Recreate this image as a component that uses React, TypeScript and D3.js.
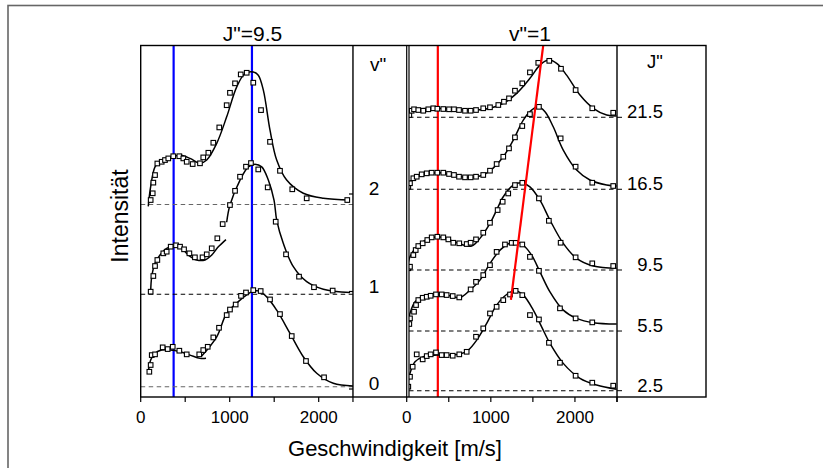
import React from "react";
import * as d3 from "d3";

// ---------- data ----------
const leftTicks = [0, 500, 1000, 1500, 2000];
const leftTickLabels = [0, 1000, 2000];
const rightTicks = [0, 500, 1000, 1500, 2000, 2500];
const rightTickLabels = [0, 1000, 2000];

const vLabels = ["0", "1", "2"];
const vOffsets = [0, 1.015, 2];
const jLabels = ["2.5", "5.5", "9.5", "16.5", "21.5"];
const jOffsets = [0, 0.655, 1.325, 2.211, 3.001];

const blueLines = [370, 1250];
const redVertical = 370;
const redSlant: [number, number][] = [[1239, 0.996], [1623, 3.79]];

type P = [number, number];

const v2Markers: P[] = [[112,0.049],[135,0.123],[142,0.24],[161,0.323],[187,0.45],[236,0.469],[273,0.488],[310,0.506],[366,0.53],[434,0.53],[479,0.506],[517,0.469],[584,0.444],[666,0.452],[703,0.517],[760,0.568],[816,0.678],[883,0.846],[966,1.09],[1003,1.226],[1060,1.33],[1124,1.428],[1191,1.446],[1265,1.337],[1352,1.036],[1453,0.688],[1565,0.37],[1703,0.167],[1865,0.068],[2321,0.049]];
const v2Fit: P[] = [[85,-0.02],[112,0.195],[161,0.414],[217,0.469],[366,0.524],[442,0.542],[554,0.506],[666,0.452],[742,0.488],[854,0.671],[966,0.962],[1079,1.291],[1172,1.438],[1265,1.455],[1321,1.419],[1378,1.255],[1453,0.816],[1528,0.488],[1640,0.268],[1827,0.123],[2052,0.068],[2352,0.049]];

const v1Markers: P[] = [[112,0.028],[142,0.2],[161,0.31],[187,0.376],[254,0.449],[292,0.467],[337,0.522],[397,0.537],[442,0.522],[487,0.493],[547,0.449],[609,0.405],[695,0.405],[742,0.438],[798,0.504],[861,0.614],[921,0.77],[1003,0.979],[1060,1.135],[1116,1.29],[1183,1.4],[1239,1.44],[1321,1.37],[1427,1.173],[1517,0.796],[1633,0.438],[1779,0.193],[1947,0.077],[2157,0.04]];
const v1FitA: P[] = [[112,0.028],[124,0.193],[161,0.34],[217,0.43],[292,0.504],[385,0.529],[461,0.504],[535,0.43],[629,0.376],[722,0.376],[798,0.43],[872,0.52],[958,0.6]];
const v1FitB: P[] = [[966,0.79],[1003,0.979],[1116,1.253],[1209,1.398],[1284,1.428],[1360,1.398],[1434,1.253],[1498,1.033],[1528,0.814],[1602,0.559],[1715,0.302],[1865,0.138],[2052,0.055],[2352,0.018]];

const v0Markers: P[] = [[97,0.164],[112,0.238],[124,0.347],[161,0.355],[247,0.432],[303,0.413],[360,0.438],[434,0.395],[517,0.355],[658,0.355],[703,0.402],[753,0.438],[816,0.541],[880,0.647],[966,0.786],[1003,0.847],[1067,0.902],[1127,0.997],[1183,1.034],[1265,1.06],[1348,1.05],[1453,0.958],[1565,0.797],[1697,0.556],[1857,0.282],[2060,0.103]];
const v0FitA: P[] = [[85,0.147],[112,0.293],[161,0.366],[236,0.402],[329,0.402],[442,0.384],[554,0.347],[666,0.311],[734,0.311]];
const v0FitB: P[] = [[685,0.336],[854,0.548],[966,0.804],[1116,0.95],[1247,1.041],[1321,1.052],[1416,0.986],[1528,0.84],[1678,0.585],[1827,0.329],[1978,0.147],[2164,0.037],[2389,0.008]];

const j21Markers: P[] = [[31,0.025],[59,0.072],[87,0.088],[138,0.08],[197,0.072],[257,0.088],[316,0.099],[364,0.094],[435,0.091],[503,0.088],[562,0.088],[622,0.08],[693,0.072],[760,0.072],[824,0.08],[910,0.099],[990,0.11],[1089,0.135],[1156,0.171],[1216,0.208],[1287,0.292],[1374,0.373],[1465,0.493],[1564,0.598],[1695,0.62],[1834,0.533],[2008,0.299],[2206,0.099],[2455,0.05]];
const j21Fit: P[] = [[7,0.025],[39,0.072],[119,0.088],[357,0.099],[594,0.088],[832,0.08],[990,0.099],[1148,0.153],[1307,0.263],[1465,0.428],[1584,0.573],[1683,0.628],[1783,0.592],[1901,0.463],[2060,0.244],[2218,0.099],[2377,0.025],[2496,0.014]];

const j16Markers: P[] = [[19,0.028],[39,0.066],[79,0.121],[119,0.138],[178,0.164],[238,0.175],[297,0.182],[364,0.182],[435,0.182],[503,0.168],[562,0.157],[622,0.138],[693,0.131],[760,0.131],[824,0.138],[910,0.157],[990,0.204],[1069,0.277],[1148,0.357],[1216,0.449],[1287,0.57],[1374,0.694],[1465,0.825],[1572,0.905],[1830,0.559],[2008,0.248],[2206,0.072],[2455,0.036]];
const j16Fit: P[] = [[7,0.011],[39,0.083],[119,0.138],[238,0.167],[396,0.182],[554,0.156],[713,0.131],[871,0.145],[990,0.203],[1148,0.357],[1267,0.54],[1386,0.76],[1485,0.869],[1564,0.905],[1644,0.851],[1742,0.686],[1861,0.43],[2020,0.211],[2178,0.102],[2377,0.047],[2496,0.036]];

const j9Markers: P[] = [[19,0.019],[39,0.036],[79,0.164],[107,0.219],[138,0.263],[190,0.293],[245,0.329],[297,0.358],[364,0.365],[435,0.358],[495,0.336],[554,0.299],[625,0.293],[713,0.285],[760,0.299],[824,0.336],[910,0.409],[990,0.518],[1081,0.658],[1141,0.749],[1207,0.84],[1287,0.932],[1374,0.957],[1572,0.786],[1690,0.54],[1830,0.299],[2008,0.139],[2206,0.073],[2455,0.044]];
const j9Fit: P[] = [[7,0.019],[39,0.146],[119,0.255],[238,0.336],[376,0.365],[515,0.329],[673,0.274],[772,0.263],[871,0.347],[990,0.511],[1069,0.658],[1148,0.804],[1267,0.932],[1367,0.957],[1465,0.913],[1584,0.767],[1703,0.548],[1861,0.292],[2020,0.128],[2218,0.044],[2496,0.019]];

const j5Markers: P[] = [[31,0.077],[39,0.139],[87,0.212],[111,0.285],[138,0.34],[190,0.365],[238,0.376],[285,0.387],[348,0.402],[416,0.402],[475,0.395],[547,0.384],[625,0.369],[760,0.457],[824,0.54],[910,0.614],[990,0.723],[1069,0.869],[1168,0.95],[1248,0.968],[1295,0.968],[1374,0.95],[1465,0.814],[1572,0.661],[1822,0.249],[2008,0.139],[2206,0.095]];
const j5Fit: P[] = [[7,0.066],[39,0.194],[99,0.321],[198,0.383],[357,0.402],[515,0.386],[634,0.368],[752,0.449],[871,0.559],[990,0.742],[1109,0.888],[1228,0.968],[1307,0.979],[1386,0.942],[1485,0.833],[1584,0.65],[1703,0.43],[1861,0.23],[2020,0.139],[2218,0.091],[2496,0.077]];

const j2Markers: P[] = [[19,0.044],[39,0.153],[71,0.263],[119,0.399],[190,0.344],[238,0.38],[285,0.399],[348,0.42],[416,0.391],[475,0.391],[547,0.384],[625,0.399],[713,0.427],[824,0.592],[910,0.684],[990,0.848],[1069,0.921],[1148,0.994],[1228,1.056],[1295,1.096],[1374,1.049],[1465,0.83],[1572,0.782],[1691,0.526],[1822,0.307],[2008,0.164],[2206,0.088],[2455,0.055]];
const j2Fit: P[] = [[7,0.044],[39,0.19],[99,0.318],[198,0.373],[357,0.391],[515,0.391],[634,0.402],[732,0.446],[832,0.555],[951,0.738],[1069,0.939],[1188,1.056],[1287,1.096],[1386,1.049],[1505,0.884],[1604,0.701],[1703,0.519],[1861,0.3],[2060,0.136],[2258,0.062],[2496,0.015]];

// ---------- layout ----------
const TOP = 45.5;
const BOTTOM = 397;
const LEFT_MAX = 2385;
const xL = d3.scaleLinear().domain([0, 2000]).range([140.7, 318.7]);
const xR = d3.scaleLinear().domain([0, 2500]).range([406.7, 617]);
const yL = d3.scaleLinear().domain([0, 2]).range([386.7, 204.5]);
const yR = d3.scaleLinear().domain([0, 3]).range([390.7, 117.4]);
const vAxis = d3.scaleLinear().domain([0, 2]).range([389, 194]);

const leftSeries = [
  { off: vOffsets[2], markers: v2Markers, fits: [v2Fit], dash: "#666" },
  { off: vOffsets[1], markers: v1Markers, fits: [v1FitA, v1FitB], dash: "#000" },
  { off: vOffsets[0], markers: v0Markers, fits: [v0FitA, v0FitB], dash: "#666" },
];
const rightSeries = [
  { off: jOffsets[4], markers: j21Markers, fits: [j21Fit] },
  { off: jOffsets[3], markers: j16Markers, fits: [j16Fit] },
  { off: jOffsets[2], markers: j9Markers, fits: [j9Fit] },
  { off: jOffsets[1], markers: j5Markers, fits: [j5Fit] },
  { off: jOffsets[0], markers: j2Markers, fits: [j2Fit] },
];

const FONT = "'Liberation Sans', Arial, Helvetica, sans-serif";

function Panel({ series, x, y, x0, x1, clipId }: any) {
  return (
    <g clipPath={`url(#${clipId})`}>
      {series.map((s: any, i: number) => {
        const line = d3
          .line<P>()
          .x((d) => x(d[0]))
          .y((d) => y(d[1] + s.off))
          .curve(d3.curveCatmullRom.alpha(0.5));
        return (
          <g key={i}>
            <line
              x1={x0}
              x2={x1}
              y1={y(s.off)}
              y2={y(s.off)}
              stroke={s.dash || "#000"}
              strokeWidth={1.1}
              strokeDasharray="4.5,3.5"
            />
            {s.fits.map((f: P[], k: number) => (
              <path key={k} d={line(f) || ""} fill="none" stroke="#000" strokeWidth={1.5} />
            ))}
            {s.markers.map((m: P, k: number) => (
              <rect
                key={k}
                x={x(m[0]) - 2.3}
                y={y(m[1] + s.off) - 2.3}
                width={4.6}
                height={4.6}
                fill="#fff"
                stroke="#000"
                strokeWidth={1.1}
              />
            ))}
          </g>
        );
      })}
    </g>
  );
}

export default function App() {
  const lx0 = xL(0);
  const lx1 = xL(LEFT_MAX);
  const rx0 = 409;
  const rx1 = xR(2500);
  const stripR = 406.7;
  const jRight = 706;

  return (
    <svg
      width={823}
      height={468}
      style={{ position: "absolute", left: 0, top: 0, background: "#fff" }}
      fontFamily={FONT}
    >
      <defs>
        <clipPath id="clipL">
          <rect x={lx0} y={TOP} width={lx1 - lx0} height={BOTTOM - TOP} />
        </clipPath>
        <clipPath id="clipR">
          <rect x={rx0} y={TOP} width={rx1 - rx0} height={BOTTOM - TOP} />
        </clipPath>
      </defs>

      {/* outer frame */}
      <rect x={8} y={5.5} width={900} height={600} fill="none" stroke="#666" strokeWidth={1.6} />

      {/* left panel */}
      <g clipPath="url(#clipL)">
        {blueLines.map((b) => (
          <line key={b} x1={xL(b)} x2={xL(b)} y1={TOP} y2={BOTTOM} stroke="#0000ff" strokeWidth={2.2} />
        ))}
      </g>
      <Panel series={leftSeries} x={xL} y={yL} x0={lx0} x1={lx1} clipId="clipL" />

      {/* right panel */}
      <g clipPath="url(#clipR)">
        <line x1={xR(redVertical)} x2={xR(redVertical)} y1={TOP} y2={BOTTOM} stroke="#ff0000" strokeWidth={2.2} />
      </g>
      <Panel series={rightSeries} x={xR} y={yR} x0={rx0} x1={rx1} clipId="clipR" />
      <g clipPath="url(#clipR)">
        <line
          x1={xR(redSlant[0][0])}
          y1={yR(redSlant[0][1])}
          x2={xR(redSlant[1][0])}
          y2={yR(redSlant[1][1])}
          stroke="#ff0000"
          strokeWidth={2.2}
        />
      </g>

      {/* frame lines */}
      <rect x={lx0} y={TOP} width={jRight - lx0} height={BOTTOM - TOP} fill="none" stroke="#000" strokeWidth={1.4} />
      <line x1={lx1} x2={lx1} y1={TOP} y2={BOTTOM} stroke="#000" strokeWidth={1.4} />
      <line x1={stripR} x2={stripR} y1={TOP} y2={BOTTOM} stroke="#000" strokeWidth={1.2} />
      <line x1={rx0} x2={rx0} y1={TOP} y2={BOTTOM} stroke="#000" strokeWidth={1.2} />
      <line x1={rx1} x2={rx1} y1={TOP} y2={BOTTOM + 5} stroke="#000" strokeWidth={1.4} />

      {/* left x axis */}
      {leftTicks.map((t) => (
        <line key={t} x1={xL(t)} x2={xL(t)} y1={BOTTOM} y2={BOTTOM + 5} stroke="#000" strokeWidth={1.2} />
      ))}
      <line x1={lx1} x2={lx1} y1={BOTTOM} y2={BOTTOM + 5} stroke="#000" strokeWidth={1.2} />
      {leftTickLabels.map((t) => (
        <text key={t} x={xL(t)} y={422.5} textAnchor="middle" fontSize={17}>
          {t}
        </text>
      ))}

      {/* right x axis */}
      {rightTicks.map((t) => (
        <line key={t} x1={xR(t)} x2={xR(t)} y1={BOTTOM} y2={BOTTOM + 5} stroke="#000" strokeWidth={1.2} />
      ))}
      {rightTickLabels.map((t) => (
        <text key={t} x={xR(t)} y={422.5} textAnchor="middle" fontSize={17}>
          {t}
        </text>
      ))}

      {/* v'' axis */}
      {vLabels.map((l, i) => (
        <g key={l}>
          <line x1={lx1 - 4} x2={lx1} y1={vAxis(i)} y2={vAxis(i)} stroke="#000" strokeWidth={1.2} />
          <text x={374} y={vAxis(i) + 1} textAnchor="middle" fontSize={19}>
            {l}
          </text>
        </g>
      ))}
      <text x={378} y={71} textAnchor="middle" fontSize={19}>
        v"
      </text>

      {/* J'' axis */}
      {jLabels.map((l, i) => (
        <g key={l}>
          <line x1={rx1} x2={rx1 + 5} y1={yR(jOffsets[i])} y2={yR(jOffsets[i])} stroke="#000" strokeWidth={1} />
          <text x={663} y={yR(jOffsets[i]) + 1} textAnchor="end" fontSize={18.5}>
            {l}
          </text>
        </g>
      ))}
      <text x={655} y={68} textAnchor="middle" fontSize={18.5}>
        J"
      </text>

      {/* titles */}
      <text x={252.5} y={41} textAnchor="middle" fontSize={21}>
        J"=9.5
      </text>
      <text x={530} y={41} textAnchor="middle" fontSize={21}>
        v"=1
      </text>
      <text x={395} y={456} textAnchor="middle" fontSize={22}>
        Geschwindigkeit [m/s]
      </text>
      <text transform="translate(127.5,216) rotate(-90)" textAnchor="middle" fontSize={23}>
        Intensität
      </text>
    </svg>
  );
}
